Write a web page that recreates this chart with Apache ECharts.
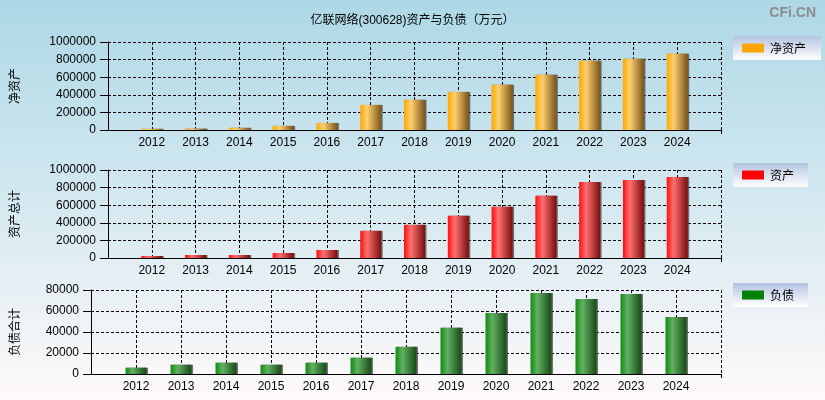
<!DOCTYPE html>
<html>
<head>
<meta charset="utf-8">
<script src="https://cdn.jsdelivr.net/npm/echarts@6/dist/echarts.min.js"></script>
<style>
html,body{margin:0;padding:0;}
#main{width:825px;height:400px;background:linear-gradient(to bottom,#add8e6 0%,#d0e7ef 45%,#fffafa 100%);}
</style>
</head>
<body>
<div id="main"></div>
<script>
const years = ['2012','2013','2014','2015','2016','2017','2018','2019','2020','2021','2022','2023','2024'];
const netAssets = [13000, 15000, 25000, 47000, 80000, 285000, 343000, 433000, 513000, 627000, 787000, 810000, 867000];
const totalAssets = [23000, 34000, 34000, 57000, 91000, 309000, 377000, 479000, 581000, 706000, 864000, 887000, 921000];
const totalLiab = [6000, 8850, 10750, 8850, 10750, 15500, 25900, 43950, 58200, 77150, 71460, 76200, 54400];
const yTicks1 = [0, 200000, 400000, 600000, 800000, 1000000];
const yTicks3 = [0, 20000, 40000, 60000, 80000];

const FONT = 'Liberation Sans, Arial, Noto Sans CJK SC, sans-serif';
const cats = [' '].concat(years, ['  ']);
const pad = arr => ['-'].concat(arr, ['-']);

function grad(c0, c1, c2) {
  return new echarts.graphic.LinearGradient(0, 0, 1, 0, [
    {offset: 0, color: c0}, {offset: 0.33, color: c1}, {offset: 1, color: c2}
  ]);
}

function xAxis(gi) {
  return {
    type: 'category', gridIndex: gi, data: cats, boundaryGap: false,
    axisLine: {lineStyle: {color: '#000', width: 1}},
    axisTick: {show: true, interval: (i) => i === cats.length - 1, length: 4, lineStyle: {color: '#000'}},
    axisLabel: {interval: 0, color: '#000', fontSize: 12, margin: 7, fontFamily: FONT},
    splitLine: {show: true, interval: 0, lineStyle: {color: '#000', type: [3, 2], width: 1}}
  };
}
function yAxis(gi, name, ticks, gap) {
  return {
    type: 'value', gridIndex: gi, min: ticks[0], max: ticks[ticks.length - 1],
    interval: ticks[1] - ticks[0],
    name: name, nameLocation: 'middle', nameGap: gap, nameRotate: 90,
    nameTextStyle: {color: '#000', fontSize: 12, fontFamily: 'Noto Sans CJK SC'},
    axisLine: {show: true, lineStyle: {color: '#000', width: 1}},
    axisTick: {show: true, length: 8, lineStyle: {color: '#000'}},
    axisLabel: {color: '#000', fontSize: 12, margin: 12, fontFamily: FONT, formatter: v => String(v)},
    splitLine: {show: true, lineStyle: {color: '#000', type: [3, 2], width: 1}}
  };
}
function legend(name, color, top, padRight) {
  return {
    data: [{name: name, itemStyle: {color: color}}],
    left: 733, top: top, orient: 'horizontal',
    icon: 'rect', itemWidth: 22, itemHeight: 9, itemGap: 0,
    padding: [6, padRight, 6, 9],
    backgroundColor: new echarts.graphic.LinearGradient(0, 0, 0, 1, [
      {offset: 0, color: '#b3c4e0'}, {offset: 1, color: '#ffffff'}
    ]),
    textStyle: {color: '#000', fontSize: 12, lineHeight: 12, fontFamily: 'Noto Sans CJK SC', padding: [0, 0, 0, 1]}
  };
}
const barCommon = {
  type: 'bar', barWidth: 21,
};

const chart = echarts.init(document.getElementById('main'));
chart.setOption({
  animation: false,
  textStyle: {fontFamily: FONT},
  title: [
    {text: '亿联网络(300628)资产与负债（万元）', left: 'center', top: 10,
     textStyle: {fontSize: 12, fontWeight: 'normal', color: '#000', fontFamily: FONT}},
    {text: 'CFi.CN', right: 4, top: 1,
     textStyle: {fontSize: 14, fontWeight: 'bold', color: '#8c8c8c', fontFamily: FONT}}
  ],
  legend: [
    legend('净资产', '#FFA500', 36, 15),
    legend('资产', '#FF0000', 163, 14),
    legend('负债', '#008000', 283, 14)
  ],
  grid: [
    {left: 108, right: 104, top: 42, height: 88},
    {left: 108, right: 104, top: 170, height: 88},
    {left: 90, right: 104, top: 290, height: 84}
  ],
  xAxis: [xAxis(0), xAxis(1), xAxis(2)],
  yAxis: [
    yAxis(0, '净资产', yTicks1, 88),
    yAxis(1, '资产总计', yTicks1, 88),
    yAxis(2, '负债合计', yTicks3, 71)
  ],
  series: [
    Object.assign({}, barCommon, {name: '净资产', xAxisIndex: 0, yAxisIndex: 0, data: pad(netAssets),
      itemStyle: {color: grad('#ffa800', '#ffd070', '#7a5418'), shadowColor: 'rgba(80,80,80,0.8)', shadowOffsetX: 1.5, shadowBlur: 0}}),
    Object.assign({}, barCommon, {name: '资产', xAxisIndex: 1, yAxisIndex: 1, data: pad(totalAssets),
      itemStyle: {color: grad('#ff1010', '#ff7070', '#7a0c0c'), shadowColor: 'rgba(80,80,80,0.8)', shadowOffsetX: 1.5, shadowBlur: 0}}),
    Object.assign({}, barCommon, {name: '负债', xAxisIndex: 2, yAxisIndex: 2, data: pad(totalLiab),
      itemStyle: {color: grad('#128a12', '#62b062', '#164a16'), shadowColor: 'rgba(80,80,80,0.8)', shadowOffsetX: 1.5, shadowBlur: 0}})
  ]
});
</script>
</body>
</html>
